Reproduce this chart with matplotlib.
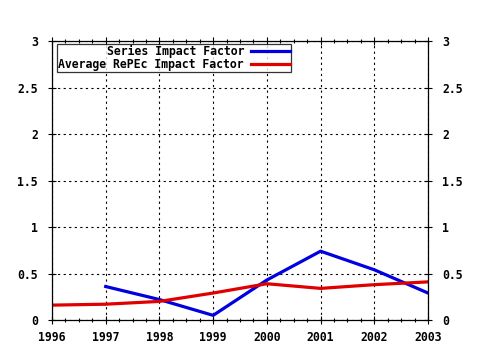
import matplotlib
matplotlib.use("Agg")
import matplotlib.pyplot as plt
from matplotlib.ticker import MultipleLocator

years_series = [1997, 1998, 1999, 2000, 2001, 2002, 2003]
series_if = [0.36, 0.22, 0.05, 0.43, 0.74, 0.54, 0.29]

years_avg = [1996, 1997, 1998, 1999, 2000, 2001, 2002, 2003]
avg_if = [0.16, 0.17, 0.20, 0.29, 0.39, 0.34, 0.38, 0.41]

plt.rcParams['font.family'] = 'DejaVu Sans Mono'
plt.rcParams['font.weight'] = 'bold'

fig = plt.figure(figsize=(4.8, 3.5), dpi=100)
ax = fig.add_axes([0.1083, 0.0857, 0.7834, 0.7971])

ax.plot(years_series, series_if, color='#0000e0', lw=2.3, label='Series Impact Factor')
ax.plot(years_avg, avg_if, color='#e00000', lw=2.3, label='Average RePEc Impact Factor')

ax.set_xlim(1996, 2003)
ax.set_ylim(0, 3)
ax.xaxis.set_major_locator(MultipleLocator(1))
ax.xaxis.set_minor_locator(MultipleLocator(0.25))
ax.yaxis.set_major_locator(MultipleLocator(0.5))
ax.yaxis.set_major_formatter(plt.FuncFormatter(lambda v, p: f"{v:g}"))

# dotted grid on the major ticks only
ax.grid(True, which='major', color='black', linestyle=(0, (2, 3)), linewidth=0.8)
ax.tick_params(which='both', direction='inout', top=True, right=True,
               labelright=True, labelsize=8.3, width=0.8, colors='black')
ax.tick_params(which='major', length=6)
ax.tick_params(axis='y', which='major', pad=7)
ax.tick_params(axis='x', which='major', pad=5)
ax.tick_params(which='minor', length=3)
for s in ax.spines.values():
    s.set_linewidth(0.9)

leg = ax.legend(loc='upper left', bbox_to_anchor=(0.014, 0.99), markerfirst=False,
                fontsize=8.3, handlelength=3.4, frameon=True, fancybox=False,
                borderpad=0.1, labelspacing=0.0, handletextpad=0.6,
                borderaxespad=0)
leg.get_frame().set_edgecolor('black')
leg.get_frame().set_linewidth(0.9)

fig.savefig('out.png', dpi=100)
